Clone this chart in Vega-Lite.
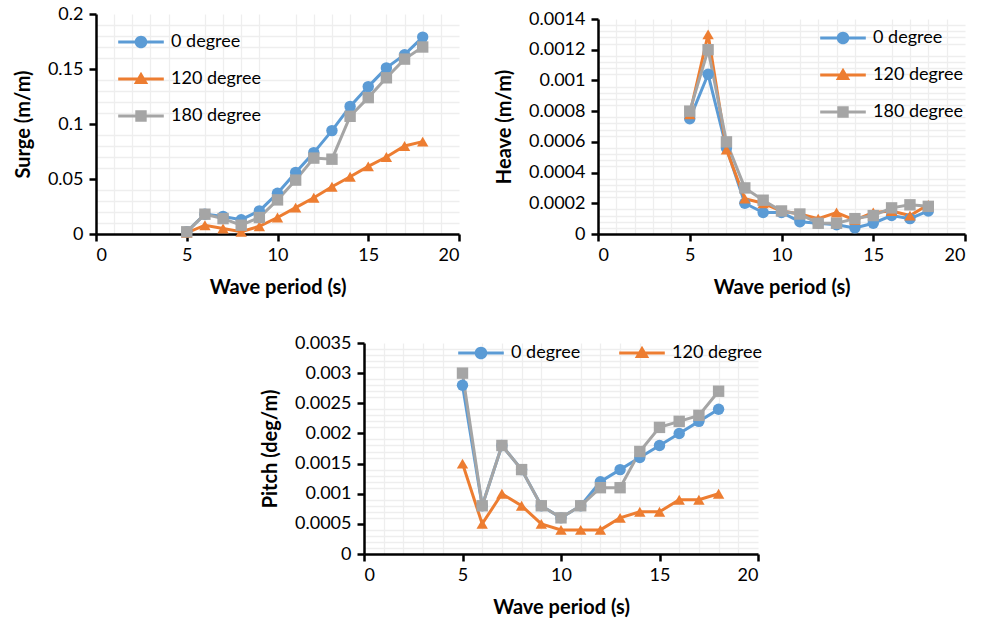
{
  "$schema": "https://vega.github.io/schema/vega-lite/v6.json",
  "padding": {"left": 13, "top": 5, "right": 3, "bottom": 1},
  "background": "white",
  "config": {
    "view": {"stroke": null},
    "font": "Lato",
    "axis": {
      "domainColor": "#000000", "domainWidth": 2.5, "tickColor": "#000000", "tickWidth": 2.5, "tickSize": 7,
      "labelFont": "Lato", "labelFontSize": 18, "labelColor": "#000000", "labelPadding": 5,
      "titleFont": "Lato", "titleFontSize": 20, "titleFontWeight": "bold", "titleColor": "#000000",
      "gridColor": "#d9d9d9", "gridWidth": 1.3
    },
    "axisX": {"titlePadding": 13},
    "axisY": {"titlePadding": 14, "labelPadding": 6},
    "legend": {
      "orient": "none", "title": null, "symbolSize": 144, "labelOffset": 21, "rowPadding": 19, "columnPadding": 38,
      "labelFontSize": 18, "labelFont": "Lato", "labelColor": "#000000", "padding": 0, "symbolStrokeWidth": 0
    }
  },
  "datasets": {
    "surge": [
      {"period": 5, "series": "0 degree", "value": 0.002},
      {"period": 6, "series": "0 degree", "value": 0.018},
      {"period": 7, "series": "0 degree", "value": 0.016},
      {"period": 8, "series": "0 degree", "value": 0.013},
      {"period": 9, "series": "0 degree", "value": 0.021},
      {"period": 10, "series": "0 degree", "value": 0.037},
      {"period": 11, "series": "0 degree", "value": 0.056},
      {"period": 12, "series": "0 degree", "value": 0.074},
      {"period": 13, "series": "0 degree", "value": 0.094},
      {"period": 14, "series": "0 degree", "value": 0.116},
      {"period": 15, "series": "0 degree", "value": 0.134},
      {"period": 16, "series": "0 degree", "value": 0.151},
      {"period": 17, "series": "0 degree", "value": 0.163},
      {"period": 18, "series": "0 degree", "value": 0.179},
      {"period": 5, "series": "120 degree", "value": 0.001},
      {"period": 6, "series": "120 degree", "value": 0.008},
      {"period": 7, "series": "120 degree", "value": 0.005},
      {"period": 8, "series": "120 degree", "value": 0.002},
      {"period": 9, "series": "120 degree", "value": 0.007},
      {"period": 10, "series": "120 degree", "value": 0.015},
      {"period": 11, "series": "120 degree", "value": 0.024},
      {"period": 12, "series": "120 degree", "value": 0.033},
      {"period": 13, "series": "120 degree", "value": 0.043},
      {"period": 14, "series": "120 degree", "value": 0.052},
      {"period": 15, "series": "120 degree", "value": 0.0615},
      {"period": 16, "series": "120 degree", "value": 0.07},
      {"period": 17, "series": "120 degree", "value": 0.08},
      {"period": 18, "series": "120 degree", "value": 0.084},
      {"period": 5, "series": "180 degree", "value": 0.002},
      {"period": 6, "series": "180 degree", "value": 0.018},
      {"period": 7, "series": "180 degree", "value": 0.014},
      {"period": 8, "series": "180 degree", "value": 0.008},
      {"period": 9, "series": "180 degree", "value": 0.015},
      {"period": 10, "series": "180 degree", "value": 0.031},
      {"period": 11, "series": "180 degree", "value": 0.049},
      {"period": 12, "series": "180 degree", "value": 0.069},
      {"period": 13, "series": "180 degree", "value": 0.068},
      {"period": 14, "series": "180 degree", "value": 0.107},
      {"period": 15, "series": "180 degree", "value": 0.124},
      {"period": 16, "series": "180 degree", "value": 0.142},
      {"period": 17, "series": "180 degree", "value": 0.159},
      {"period": 18, "series": "180 degree", "value": 0.17}
    ],
    "heave": [
      {"period": 5, "series": "0 degree", "value": 0.00075},
      {"period": 6, "series": "0 degree", "value": 0.00104},
      {"period": 7, "series": "0 degree", "value": 0.00056},
      {"period": 8, "series": "0 degree", "value": 0.0002},
      {"period": 9, "series": "0 degree", "value": 0.00014},
      {"period": 10, "series": "0 degree", "value": 0.00014},
      {"period": 11, "series": "0 degree", "value": 0.00008},
      {"period": 12, "series": "0 degree", "value": 0.00007},
      {"period": 13, "series": "0 degree", "value": 0.00006},
      {"period": 14, "series": "0 degree", "value": 0.00004},
      {"period": 15, "series": "0 degree", "value": 0.00007},
      {"period": 16, "series": "0 degree", "value": 0.00012},
      {"period": 17, "series": "0 degree", "value": 0.0001},
      {"period": 18, "series": "0 degree", "value": 0.00015},
      {"period": 5, "series": "120 degree", "value": 0.00078},
      {"period": 6, "series": "120 degree", "value": 0.0013},
      {"period": 7, "series": "120 degree", "value": 0.00055},
      {"period": 8, "series": "120 degree", "value": 0.00023},
      {"period": 9, "series": "120 degree", "value": 0.0002},
      {"period": 10, "series": "120 degree", "value": 0.00015},
      {"period": 11, "series": "120 degree", "value": 0.00013},
      {"period": 12, "series": "120 degree", "value": 0.0001},
      {"period": 13, "series": "120 degree", "value": 0.00014},
      {"period": 14, "series": "120 degree", "value": 0.00009},
      {"period": 15, "series": "120 degree", "value": 0.00014},
      {"period": 16, "series": "120 degree", "value": 0.00015},
      {"period": 17, "series": "120 degree", "value": 0.00012},
      {"period": 18, "series": "120 degree", "value": 0.00019},
      {"period": 5, "series": "180 degree", "value": 0.0008},
      {"period": 6, "series": "180 degree", "value": 0.0012},
      {"period": 7, "series": "180 degree", "value": 0.0006},
      {"period": 8, "series": "180 degree", "value": 0.0003},
      {"period": 9, "series": "180 degree", "value": 0.00022},
      {"period": 10, "series": "180 degree", "value": 0.00015},
      {"period": 11, "series": "180 degree", "value": 0.00013},
      {"period": 12, "series": "180 degree", "value": 0.00007},
      {"period": 13, "series": "180 degree", "value": 0.00007},
      {"period": 14, "series": "180 degree", "value": 0.0001},
      {"period": 15, "series": "180 degree", "value": 0.00012},
      {"period": 16, "series": "180 degree", "value": 0.00017},
      {"period": 17, "series": "180 degree", "value": 0.00019},
      {"period": 18, "series": "180 degree", "value": 0.00018}
    ],
    "pitch": [
      {"period": 5, "series": "0 degree", "value": 0.0028},
      {"period": 6, "series": "0 degree", "value": 0.0008},
      {"period": 7, "series": "0 degree", "value": 0.0018},
      {"period": 8, "series": "0 degree", "value": 0.0014},
      {"period": 9, "series": "0 degree", "value": 0.0008},
      {"period": 10, "series": "0 degree", "value": 0.0006},
      {"period": 11, "series": "0 degree", "value": 0.0008},
      {"period": 12, "series": "0 degree", "value": 0.0012},
      {"period": 13, "series": "0 degree", "value": 0.0014},
      {"period": 14, "series": "0 degree", "value": 0.0016},
      {"period": 15, "series": "0 degree", "value": 0.0018},
      {"period": 16, "series": "0 degree", "value": 0.002},
      {"period": 17, "series": "0 degree", "value": 0.0022},
      {"period": 18, "series": "0 degree", "value": 0.0024},
      {"period": 5, "series": "120 degree", "value": 0.0015},
      {"period": 6, "series": "120 degree", "value": 0.0005},
      {"period": 7, "series": "120 degree", "value": 0.001},
      {"period": 8, "series": "120 degree", "value": 0.0008},
      {"period": 9, "series": "120 degree", "value": 0.0005},
      {"period": 10, "series": "120 degree", "value": 0.0004},
      {"period": 11, "series": "120 degree", "value": 0.0004},
      {"period": 12, "series": "120 degree", "value": 0.0004},
      {"period": 13, "series": "120 degree", "value": 0.0006},
      {"period": 14, "series": "120 degree", "value": 0.0007},
      {"period": 15, "series": "120 degree", "value": 0.0007},
      {"period": 16, "series": "120 degree", "value": 0.0009},
      {"period": 17, "series": "120 degree", "value": 0.0009},
      {"period": 18, "series": "120 degree", "value": 0.001},
      {"period": 5, "series": "180 degree", "value": 0.003},
      {"period": 6, "series": "180 degree", "value": 0.0008},
      {"period": 7, "series": "180 degree", "value": 0.0018},
      {"period": 8, "series": "180 degree", "value": 0.0014},
      {"period": 9, "series": "180 degree", "value": 0.0008},
      {"period": 10, "series": "180 degree", "value": 0.0006},
      {"period": 11, "series": "180 degree", "value": 0.0008},
      {"period": 12, "series": "180 degree", "value": 0.0011},
      {"period": 13, "series": "180 degree", "value": 0.0011},
      {"period": 14, "series": "180 degree", "value": 0.0017},
      {"period": 15, "series": "180 degree", "value": 0.0021},
      {"period": 16, "series": "180 degree", "value": 0.0022},
      {"period": 17, "series": "180 degree", "value": 0.0023},
      {"period": 18, "series": "180 degree", "value": 0.0027}
    ]
  },
  "vconcat": [
    {
      "hconcat": [
        {
          "width": 363, "height": 220,
          "data": {"name": "surge"},
          "encoding": {
            "x": {"field": "period", "type": "quantitative", "scale": {"domain": [0, 20], "nice": false}},
            "y": {"field": "value", "type": "quantitative", "scale": {"domain": [0, 0.2], "nice": false}}
          },
          "layer": [
            {
              "mark": {"type": "line", "strokeWidth": 3},
              "encoding": {
                "x": {"field": "period", "type": "quantitative", "axis": {"orient": "top", "grid": true, "gridColor": "#eeeeee", "labels": false, "ticks": false, "domain": false, "title": null, "minExtent": 0, "maxExtent": 0, "values": [1,2,3,4,6,7,8,9,11,12,13,14,16,17,18,19]}},
                "y": {"field": "value", "type": "quantitative", "axis": {"orient": "right", "grid": true, "gridColor": "#eeeeee", "labels": false, "ticks": false, "domain": false, "title": null, "minExtent": 0, "maxExtent": 0, "values": [0.01,0.02,0.03,0.04,0.06,0.07,0.08,0.09,0.11,0.12,0.13,0.14,0.16,0.17,0.18,0.19]}},
                "color": {"field": "series", "type": "nominal", "scale": {"domain": ["0 degree", "120 degree", "180 degree"], "range": ["#5B9BD5", "#ED7D31", "#A5A5A5"]},
                  "legend": {"legendX": 36, "legendY": 19,
                    "encoding": {"symbols": {
                      "shape": {"value": {"expr": "datum.value === '0 degree' ? 'M-3.8,-0.25H3.8V0.25H-3.8ZM1.05,0A1.05,1.05 0 1,1 -1.05,0A1.05,1.05 0 1,1 1.05,0Z' : datum.value === '120 degree' ? 'M-3.8,-0.25H3.8V0.25H-3.8ZM0,-1.2L1.2,0.85L-1.2,0.85Z' : 'M-3.8,-0.25H3.8V0.25H-3.8ZM-0.95,-0.95H0.95V0.95H-0.95Z'"}},
                      "fill": {"value": {"expr": "datum.value === '0 degree' ? '#5B9BD5' : datum.value === '120 degree' ? '#ED7D31' : '#A5A5A5'"}},
                      "opacity": {"value": 1}}}}}
              }
            },
            {
              "transform": [{"filter": "datum.series === '0 degree'"}],
              "mark": {"type": "point", "shape": "circle", "filled": true, "opacity": 1, "size": 130, "color": "#5B9BD5"},
              "encoding": {
                "x": {"field": "period", "type": "quantitative", "axis": {"orient": "bottom", "values": [0, 5, 10, 15, 20], "title": "Wave period  (s)"}},
                "y": {"field": "value", "type": "quantitative", "axis": {"orient": "left", "values": [0, 0.05, 0.1, 0.15, 0.2], "format": "~g", "title": "Surge (m/m)"}}
              }
            },
            {
              "transform": [{"filter": "datum.series === '120 degree'"}],
              "mark": {"type": "point", "shape": "triangle-up", "filled": true, "opacity": 1, "size": 130, "color": "#ED7D31"},
              "encoding": {"x": {"field": "period", "type": "quantitative", "axis": null}, "y": {"field": "value", "type": "quantitative", "axis": null}}
            },
            {
              "transform": [{"filter": "datum.series === '180 degree'"}],
              "mark": {"type": "point", "shape": "square", "filled": true, "opacity": 1, "size": 130, "color": "#A5A5A5"},
              "encoding": {"x": {"field": "period", "type": "quantitative", "axis": null}, "y": {"field": "value", "type": "quantitative", "axis": null}}
            }
          ],
          "resolve": {"axis": {"x": "independent", "y": "independent"}}
        },
        {
          "width": 367, "height": 220,
          "data": {"name": "heave"},
          "encoding": {
            "x": {"field": "period", "type": "quantitative", "scale": {"domain": [0, 20], "nice": false}},
            "y": {"field": "value", "type": "quantitative", "scale": {"domain": [0, 0.0014], "nice": false, "range": [220, 5]}}
          },
          "layer": [
            {
              "mark": {"type": "line", "strokeWidth": 3},
              "encoding": {
                "x": {"field": "period", "type": "quantitative", "axis": {"orient": "top", "grid": true, "gridColor": "#eeeeee", "labels": false, "ticks": false, "domain": false, "title": null, "minExtent": 0, "maxExtent": 0, "values": [1,2,3,4,6,7,8,9,11,12,13,14,16,17,18,19]}},
                "y": {"field": "value", "type": "quantitative", "axis": {"orient": "right", "grid": true, "gridColor": "#eeeeee", "labels": false, "ticks": false, "domain": false, "title": null, "minExtent": 0, "maxExtent": 0, "values": [0.00004,0.00008,0.00012,0.00016,0.00024,0.00028,0.00032,0.00036,0.00044,0.00048,0.00052,0.00056,0.00064,0.00068,0.00072,0.00076,0.00084,0.00088,0.00092,0.00096,0.00104,0.00108,0.00112,0.00116,0.00124,0.00128,0.00132,0.00136]}},
                "color": {"field": "series", "type": "nominal", "scale": {"domain": ["0 degree", "120 degree", "180 degree"], "range": ["#5B9BD5", "#ED7D31", "#A5A5A5"]},
                  "legend": {"legendX": 236, "legendY": 15,
                    "encoding": {"symbols": {
                      "shape": {"value": {"expr": "datum.value === '0 degree' ? 'M-3.8,-0.25H3.8V0.25H-3.8ZM1.05,0A1.05,1.05 0 1,1 -1.05,0A1.05,1.05 0 1,1 1.05,0Z' : datum.value === '120 degree' ? 'M-3.8,-0.25H3.8V0.25H-3.8ZM0,-1.2L1.2,0.85L-1.2,0.85Z' : 'M-3.8,-0.25H3.8V0.25H-3.8ZM-0.95,-0.95H0.95V0.95H-0.95Z'"}},
                      "fill": {"value": {"expr": "datum.value === '0 degree' ? '#5B9BD5' : datum.value === '120 degree' ? '#ED7D31' : '#A5A5A5'"}},
                      "opacity": {"value": 1}}}}}
              }
            },
            {
              "transform": [{"filter": "datum.series === '0 degree'"}],
              "mark": {"type": "point", "shape": "circle", "filled": true, "opacity": 1, "size": 130, "color": "#5B9BD5"},
              "encoding": {
                "x": {"field": "period", "type": "quantitative", "axis": {"orient": "bottom", "values": [0, 5, 10, 15, 20], "title": "Wave period  (s)"}},
                "y": {"field": "value", "type": "quantitative", "axis": {"orient": "left", "values": [0, 0.0002, 0.0004, 0.0006, 0.0008, 0.001, 0.0012, 0.0014], "format": "~g", "title": "Heave (m/m)"}}
              }
            },
            {
              "transform": [{"filter": "datum.series === '120 degree'"}],
              "mark": {"type": "point", "shape": "triangle-up", "filled": true, "opacity": 1, "size": 130, "color": "#ED7D31"},
              "encoding": {"x": {"field": "period", "type": "quantitative", "axis": null}, "y": {"field": "value", "type": "quantitative", "axis": null}}
            },
            {
              "transform": [{"filter": "datum.series === '180 degree'"}],
              "mark": {"type": "point", "shape": "square", "filled": true, "opacity": 1, "size": 130, "color": "#A5A5A5"},
              "encoding": {"x": {"field": "period", "type": "quantitative", "axis": null}, "y": {"field": "value", "type": "quantitative", "axis": null}}
            }
          ],
          "resolve": {"axis": {"x": "independent", "y": "independent"}}
        }
      ],
      "spacing": 33,
      "align": "none",
      "resolve": {"scale": {"color": "independent"}, "legend": {"color": "independent"}}
    },
    {
      "hconcat": [
        {"width": 164, "height": 10, "data": {"values": []}, "mark": "point"},
        {
          "width": 394, "height": 211,
          "data": {"name": "pitch"},
          "encoding": {
            "x": {"field": "period", "type": "quantitative", "scale": {"domain": [0, 20], "nice": false}},
            "y": {"field": "value", "type": "quantitative", "scale": {"domain": [0, 0.0035], "nice": false}}
          },
          "layer": [
            {
              "mark": {"type": "line", "strokeWidth": 3},
              "encoding": {
                "x": {"field": "period", "type": "quantitative", "axis": {"orient": "top", "grid": true, "gridColor": "#eeeeee", "labels": false, "ticks": false, "domain": false, "title": null, "minExtent": 0, "maxExtent": 0, "values": [1,2,3,4,6,7,8,9,11,12,13,14,16,17,18,19]}},
                "y": {"field": "value", "type": "quantitative", "axis": {"orient": "right", "grid": true, "gridColor": "#eeeeee", "labels": false, "ticks": false, "domain": false, "title": null, "minExtent": 0, "maxExtent": 0, "values": [0.0001,0.0002,0.0003,0.0004,0.0006,0.0007,0.0008,0.0009,0.0011,0.0012,0.0013,0.0014,0.0016,0.0017,0.0018,0.0019,0.0021,0.0022,0.0023,0.0024,0.0026,0.0027,0.0028,0.0029,0.0031,0.0032,0.0033,0.0034]}},
                "color": {"field": "series", "type": "nominal", "scale": {"domain": ["0 degree", "120 degree", "180 degree"], "range": ["#5B9BD5", "#ED7D31", "#A5A5A5"]},
                  "legend": {"direction": "horizontal", "values": ["0 degree", "120 degree"], "legendX": 108, "legendY": 1,
                    "encoding": {"symbols": {
                      "shape": {"value": {"expr": "datum.value === '0 degree' ? 'M-3.8,-0.25H3.8V0.25H-3.8ZM1.05,0A1.05,1.05 0 1,1 -1.05,0A1.05,1.05 0 1,1 1.05,0Z' : datum.value === '120 degree' ? 'M-3.8,-0.25H3.8V0.25H-3.8ZM0,-1.2L1.2,0.85L-1.2,0.85Z' : 'M-3.8,-0.25H3.8V0.25H-3.8ZM-0.95,-0.95H0.95V0.95H-0.95Z'"}},
                      "fill": {"value": {"expr": "datum.value === '0 degree' ? '#5B9BD5' : datum.value === '120 degree' ? '#ED7D31' : '#A5A5A5'"}},
                      "opacity": {"value": 1}}}}}
              }
            },
            {
              "transform": [{"filter": "datum.series === '0 degree'"}],
              "mark": {"type": "point", "shape": "circle", "filled": true, "opacity": 1, "size": 130, "color": "#5B9BD5"},
              "encoding": {
                "x": {"field": "period", "type": "quantitative", "axis": {"orient": "bottom", "values": [0, 5, 10, 15, 20], "title": "Wave period  (s)"}},
                "y": {"field": "value", "type": "quantitative", "axis": {"orient": "left", "values": [0, 0.0005, 0.001, 0.0015, 0.002, 0.0025, 0.003, 0.0035], "format": "~g", "title": "Pitch (deg/m)"}}
              }
            },
            {
              "transform": [{"filter": "datum.series === '120 degree'"}],
              "mark": {"type": "point", "shape": "triangle-up", "filled": true, "opacity": 1, "size": 130, "color": "#ED7D31"},
              "encoding": {"x": {"field": "period", "type": "quantitative", "axis": null}, "y": {"field": "value", "type": "quantitative", "axis": null}}
            },
            {
              "transform": [{"filter": "datum.series === '180 degree'"}],
              "mark": {"type": "point", "shape": "square", "filled": true, "opacity": 1, "size": 130, "color": "#A5A5A5"},
              "encoding": {"x": {"field": "period", "type": "quantitative", "axis": null}, "y": {"field": "value", "type": "quantitative", "axis": null}}
            }
          ],
          "resolve": {"axis": {"x": "independent", "y": "independent"}}
        }
      ],
      "spacing": 0,
      "align": "none",
      "resolve": {"scale": {"color": "independent"}, "legend": {"color": "independent"}}
    }
  ],
  "spacing": 37,
  "align": "none",
  "resolve": {"scale": {"color": "independent"}, "legend": {"color": "independent"}}
}
